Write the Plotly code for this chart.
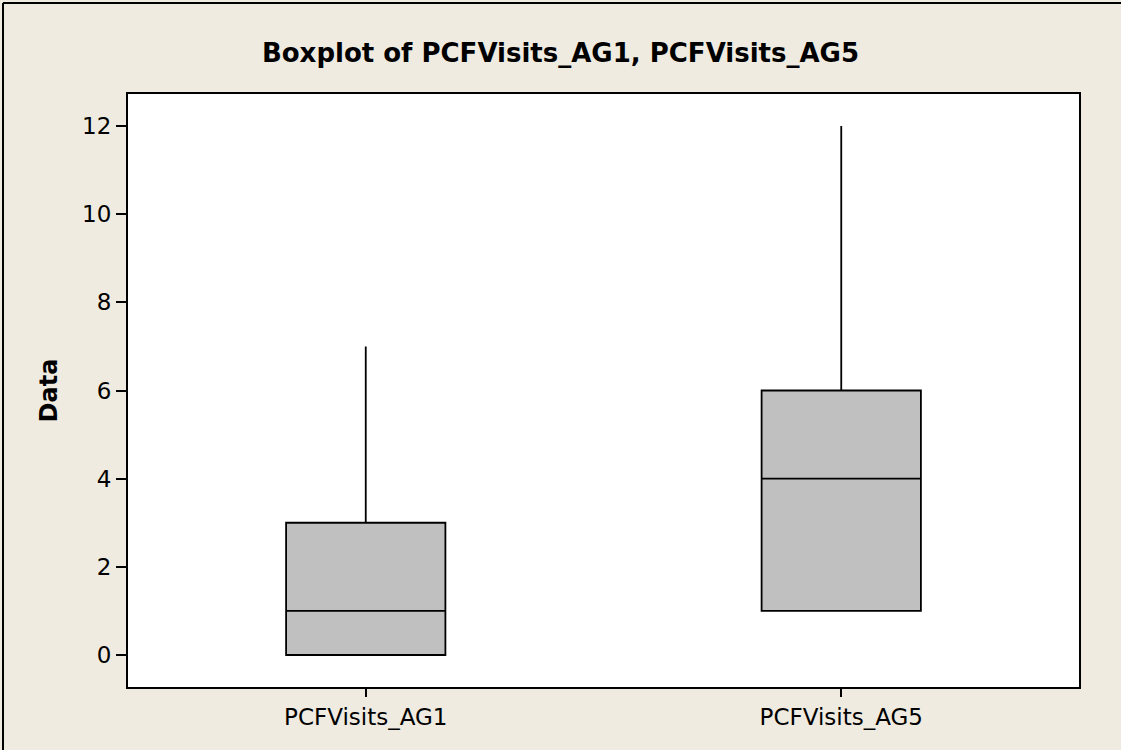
import plotly.graph_objects as go

categories = ["PCFVisits_AG1", "PCFVisits_AG5"]
q1_vals = [0, 1]
median_vals = [1, 4]
q3_vals = [3, 6]
lower_vals = [0, 1]
upper_vals = [7, 12]
y_ticks = [0, 2, 4, 6, 8, 10, 12]

W, H = 1121, 750
ml, mr, mt, mb = 128, 42, 94, 63
pw, ph = W - ml - mr, H - mt - mb

fig = go.Figure()
fig.add_trace(go.Box(
    x=categories,
    q1=q1_vals, median=median_vals, q3=q3_vals,
    lowerfence=lower_vals, upperfence=upper_vals,
    fillcolor="#C0C0C0",
    line=dict(color="black", width=1.8),
    whiskerwidth=0,
    width=0.335,
    boxpoints=False,
    showlegend=False,
    hoverinfo="skip",
))

bx = (3 - ml) / pw
by = (H - mb - 3) / ph
rx = (W - ml) / pw
byb = -mb / ph
fig.update_layout(
    width=W, height=H,
    margin=dict(l=ml, r=mr, t=mt, b=mb),
    paper_bgcolor="#EFEBE1",
    plot_bgcolor="white",
    title=dict(text="<b>Boxplot of PCFVisits_AG1, PCFVisits_AG5</b>",
               x=0.5, xanchor="center", y=1 - 53 / H, yanchor="middle",
               font=dict(family="DejaVu Sans", size=26, color="black")),
    font=dict(family="DejaVu Sans", size=23, color="black"),
    xaxis=dict(range=[-0.5, 1.5], showgrid=False, zeroline=False,
               showline=True, linecolor="black", linewidth=2, mirror=True,
               ticks="outside", ticklen=8, tickwidth=1.5, tickcolor="black",
               tickfont=dict(size=23)),
    yaxis=dict(range=[-0.726, 12.726], tickvals=y_ticks, showgrid=False, zeroline=False,
               showline=True, linecolor="black", linewidth=2, mirror=True,
               ticks="outside", ticklen=10, tickwidth=1.5, tickcolor="black",
               tickfont=dict(size=23),
               title=dict(text="<b>Data</b>", font=dict(size=24), standoff=18)),
    shapes=[
        dict(type="line", xref="paper", yref="paper", x0=bx, x1=rx, y0=by, y1=by,
             line=dict(color="black", width=2)),
        dict(type="line", xref="paper", yref="paper", x0=bx, x1=bx, y0=by, y1=byb,
             line=dict(color="black", width=2)),
    ],
)

fig.write_html("out.html",
               config={"displayModeBar": False},
               post_script="document.body.style.margin='0';document.body.style.overflow='hidden';")
